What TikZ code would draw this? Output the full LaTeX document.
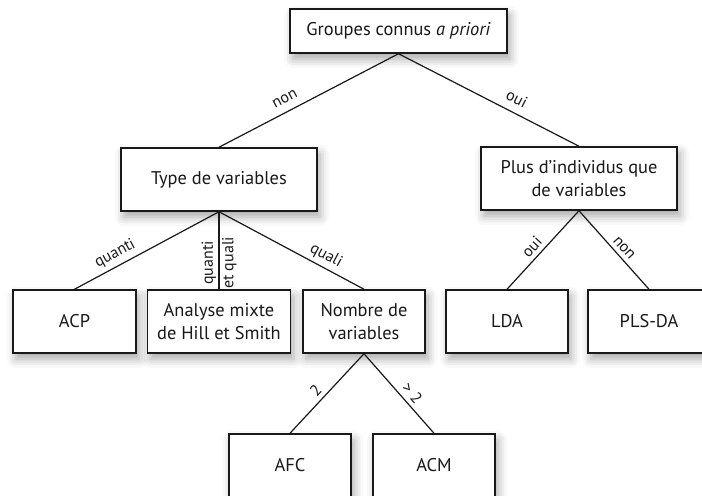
\documentclass[tikz,border=0pt]{standalone}
\usepackage{fontspec}
\setmainfont{PT Sans}
\usepackage{tikz}
\usetikzlibrary{shadows,shadows.blur}

\begin{document}
\begin{tikzpicture}[x=0.5pt,y=-0.5pt,
  box/.style={draw=black!90,line width=0.75pt,fill=white,inner sep=0pt,align=center,
    font=\fontsize{9.2}{11.2}\selectfont,text=black!90,
    blur shadow={shadow xshift=1.5pt,shadow yshift=-3pt,shadow blur radius=4.5pt,shadow opacity=35}},
  lab/.style={font=\fontsize{8}{9}\selectfont,text=black!90,inner sep=2pt},
  link/.style={draw=black!90,line width=0.6pt}]

\useasboundingbox (0,0) rectangle (702,496);

\node[box,minimum width=108.5pt,minimum height=22pt] (groupes) at (398.5,31) {Groupes connus \textit{a priori}};

\node[box,minimum width=98pt,minimum height=31.5pt] (type) at (219,179.5) {Type de variables};
\node[box,minimum width=98pt,minimum height=31.5pt] (plus) at (579,178.5) {Plus d'individus que\\de variables};

\node[box,minimum width=61.5pt,minimum height=31.5pt] (acp) at (74.5,321.5) {ACP};
\node[box,minimum width=71.5pt,minimum height=31.5pt] (mixte) at (219,321.5) {Analyse mixte\\de Hill et Smith};
\node[box,minimum width=61pt,minimum height=31.5pt] (nombre) at (364,321.5) {Nombre de\\variables};
\node[box,minimum width=61pt,minimum height=31.5pt] (lda) at (507,321.5) {LDA};
\node[box,minimum width=61pt,minimum height=31.5pt] (plsda) at (649,321.5) {PLS-DA};

\node[box,minimum width=61pt,minimum height=31.5pt] (afc) at (290,465.5) {AFC};
\node[box,minimum width=61pt,minimum height=31.5pt] (acm) at (434,465.5) {ACM};

% branches
\draw[link] (groupes.south) -- (type.north) node[lab,pos=0.6,sloped,above=2pt] {non};
\draw[link] (groupes.south) -- (plus.north) node[lab,pos=0.62,sloped,above=2pt] {oui};

\draw[link] (type.south) -- (acp.north) node[lab,pos=0.68,sloped,above] {quanti};
\draw[link] (type.south) -- (mixte.north)
  node[lab,pos=0.66,rotate=90,anchor=south,inner sep=1.2pt] {quanti}
  node[lab,pos=0.66,rotate=90,anchor=north,inner sep=1.2pt] {et quali};
\draw[link] (type.south) -- (nombre.north) node[lab,pos=0.7,sloped,above] {quali};

\draw[link] (plus.south) -- (lda.north) node[lab,pos=0.55,sloped,above] {oui};
\draw[link] (plus.south) -- (plsda.north) node[lab,pos=0.55,sloped,above] {non};

\draw[link] (nombre.south) -- (afc.north) node[lab,pos=0.55,sloped,above] {2};
\draw[link] (nombre.south) -- (acm.north) node[lab,pos=0.58,sloped,above] {> 2};

\end{tikzpicture}
\end{document}
